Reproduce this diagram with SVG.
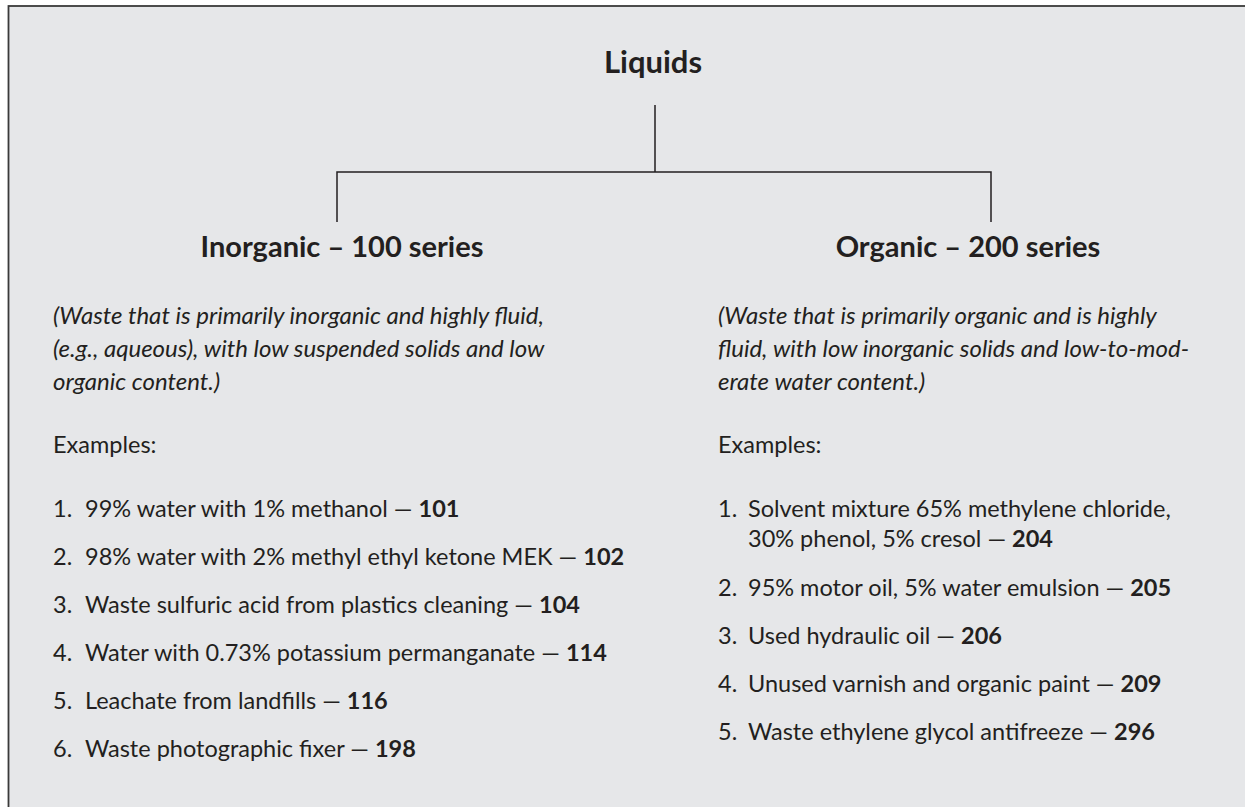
<svg xmlns="http://www.w3.org/2000/svg" width="1245" height="807" viewBox="0 0 1245 807">
<style>
text{font-family:Lato,"Open Sans","Liberation Sans",sans-serif;fill:#231f20}
.t{font-size:31px;font-weight:bold}
.h{font-size:29px;font-weight:bold}
.d{font-size:24px;font-style:italic}
.b{font-size:23.5px}
.n{font-weight:bold}
.c{stroke:#231f20;stroke-width:1.5;fill:none}
</style>
<rect width="1245" height="807" fill="#ffffff"/>
<rect x="8.5" y="6" width="1245" height="810" fill="#e6e7e9" stroke="#3a3a3a" stroke-width="1.8"/>
<g id="connectors">
<path class="c" d="M655 105V172M337 222V172H991V222"/>
</g>
<g id="liquids"><text class="t" x="653" y="73" text-anchor="middle">Liquids</text></g>
<g id="inorganic">
<text class="h" x="342" y="257" text-anchor="middle">Inorganic – 100 series</text>
<text class="d" x="53" y="324">(Waste that is primarily inorganic and highly fluid,</text>
<text class="d" x="53" y="357">(e.g., aqueous), with low suspended solids and low</text>
<text class="d" x="53" y="390">organic content.)</text>
<text class="b" x="53" y="453">Examples:</text>
<text class="b" x="53" y="517">1.</text><text class="b" x="85" y="517">99% water with 1% methanol — <tspan class="n">101</tspan></text>
<text class="b" x="53" y="565">2.</text><text class="b" x="85" y="565">98% water with 2% methyl ethyl ketone MEK — <tspan class="n">102</tspan></text>
<text class="b" x="53" y="613">3.</text><text class="b" x="85" y="613">Waste sulfuric acid from plastics cleaning — <tspan class="n">104</tspan></text>
<text class="b" x="53" y="661">4.</text><text class="b" x="85" y="661">Water with 0.73% potassium permanganate — <tspan class="n">114</tspan></text>
<text class="b" x="53" y="709">5.</text><text class="b" x="85" y="709">Leachate from landfills — <tspan class="n">116</tspan></text>
<text class="b" x="53" y="757">6.</text><text class="b" x="85" y="757">Waste photographic fixer — <tspan class="n">198</tspan></text>
</g>
<g id="organic">
<text class="h" x="968" y="257" text-anchor="middle">Organic – 200 series</text>
<text class="d" x="718" y="324">(Waste that is primarily organic and is highly</text>
<text class="d" x="718" y="357">fluid, with low inorganic solids and low-to-mod-</text>
<text class="d" x="718" y="390">erate water content.)</text>
<text class="b" x="718" y="453">Examples:</text>
<text class="b" x="718" y="517">1.</text><text class="b" x="748" y="517">Solvent mixture 65% methylene chloride,</text>
<text class="b" x="748" y="547">30% phenol, 5% cresol — <tspan class="n">204</tspan></text>
<text class="b" x="718" y="596">2.</text><text class="b" x="748" y="596">95% motor oil, 5% water emulsion — <tspan class="n">205</tspan></text>
<text class="b" x="718" y="644">3.</text><text class="b" x="748" y="644">Used hydraulic oil — <tspan class="n">206</tspan></text>
<text class="b" x="718" y="692">4.</text><text class="b" x="748" y="692">Unused varnish and organic paint — <tspan class="n">209</tspan></text>
<text class="b" x="718" y="740">5.</text><text class="b" x="748" y="740">Waste ethylene glycol antifreeze — <tspan class="n">296</tspan></text>
</g>
</svg>
